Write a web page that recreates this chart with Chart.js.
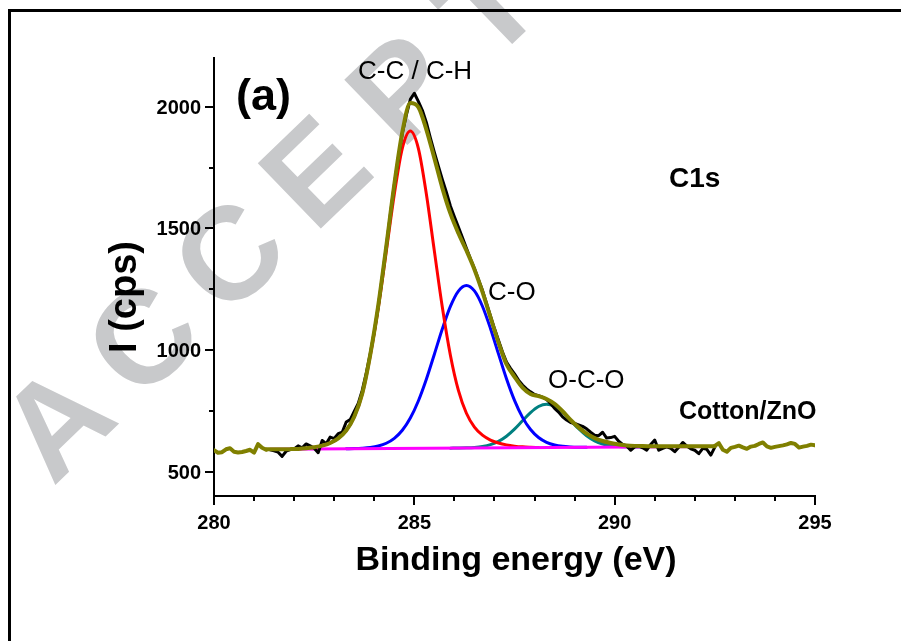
<!DOCTYPE html>
<html><head><meta charset="utf-8">
<script src="https://cdn.jsdelivr.net/npm/chart.js@4.4.1/dist/chart.umd.min.js"></script>
<style>html,body{margin:0;padding:0;background:#fff;}canvas{display:block;}</style>
</head><body>
<canvas id="c" width="901" height="641"></canvas>
<script>
// ---------- data ----------
const xTickLabels = [280, 285, 290, 295];
const xMinorTicks = [281, 282, 283, 284, 286, 287, 288, 289, 291, 292, 293, 294];
const yTickLabels = [500, 1000, 1500, 2000];
const yMinorTicks = [750, 1250, 1750];

// fit grid: starts at 281.3 eV, step 0.2 eV
const fitStart = 281.3, fitStep = 0.2;
const envelope = [592.0, 592.2, 592.4, 592.6, 593.5, 596.0, 600.5, 607.0, 618.0, 637.1,
  669.3, 725.8, 821.1, 981.4, 1183.4, 1426.8, 1680.0, 1895.0, 2015.0, 1998.0,
  1906.0, 1788.0, 1665.3, 1561.2, 1479.6, 1408.9, 1331.2, 1238.6, 1134.3, 1030.9,
  941.5, 890, 845, 819.3, 810.2, 798.8, 778.7, 748.3, 712.4, 682,
  656, 638, 626, 618, 612, 608, 606, 605, 604.5, 604,
  604, 604, 604, 604, 604, 604, 604];
const redFirst = 3;   // C-C / C-H component
const redPeak = [592.6, 593.5, 596.0, 600.5, 607.0, 618.0, 637.0, 669.0, 725.0, 819.0,
  976.6, 1172.8, 1405.0, 1640.0, 1829.0, 1900.0, 1829.0, 1641.0, 1406.2, 1174.4,
  978.6, 833.8, 740.0, 683.2, 650.0, 630.0, 618.0, 610.0, 605.0, 602.0, 600.5, 599.5];
const blueFirst = 10; // C-O component
const bluePeak = [594.3, 595.0, 596.5, 599.4, 605.4, 616.8, 637.0, 670.1, 720.4, 790.6,
  879.9, 982.5, 1087.3, 1179.1, 1242.3, 1265.0, 1242.7, 1179.9, 1088.5, 984.1,
  881.9, 793.0, 723.2, 673.3, 640.6, 620.8, 609.8, 604.2, 601.7, 600.6, 600.3];
const tealFirst = 23; // O-C-O component
const tealPeak = [596.7, 597.1, 597.9, 599.7, 603.5, 611.0, 624.4, 645.6, 674.7, 709.1,
  742.7, 767.7, 777.0, 768.1, 743.5, 710.3, 676.3, 647.6, 626.8, 613.8,
  606.7, 603.3, 601.9, 601.5, 601.5];
const baselineX = [281.4, 292.4];
const baselineY = [592, 603];

// raw spectrum: starts at 281.4 eV, step 0.1 eV
const rawStart = 281.4, rawStep = 0.1;
const raw = [590, 586, 580, 563, 584, 591, 593, 606, 598, 614,
  606, 596, 578, 628, 615, 642, 636, 656, 662, 704,
  714, 748, 780, 834, 905, 985, 1075, 1180, 1300, 1425,
  1555, 1678, 1790, 1890, 1965, 2030, 2055, 2022, 1985, 1935,
  1872, 1812, 1755, 1700, 1648, 1592, 1548, 1505, 1462, 1418,
  1375, 1335, 1290, 1245, 1192, 1140, 1088, 1040, 992, 950,
  925, 902, 876, 856, 840, 828, 817, 812, 806, 797,
  780, 760, 745, 725, 712, 702, 698, 692, 686, 676,
  662, 650, 648, 662, 638, 640, 645, 625, 612, 606,
  588, 602, 606, 598, 588, 612, 630, 588, 596, 602,
  596, 582, 600, 620, 605, 594, 588, 574, 596, 592,
  568, 601];
// olive trace outside the fit window (step 0.1 eV)
const oliveLeftStart = 280.0;
const oliveLeft = [588, 578, 580, 592, 596, 582, 579, 581, 585, 590, 578, 613, 598, 590];
const oliveRightStart = 292.5;
const oliveRight = [606, 617, 590, 582, 598, 602, 607, 600, 594, 603, 606, 614, 620, 604,
  598, 602, 605, 608, 612, 618, 614, 599, 603, 606, 611, 608];

// ---------- helpers ----------
function pts(start, step, first, ys) {
  return ys.map((y, i) => ({ x: +(start + step * (first + i)).toFixed(3), y }));
}
const FONT = '"Liberation Sans", Arial, Helvetica, sans-serif';

function line(ys, color, width, smooth) {
  return { data: ys, borderColor: color, backgroundColor: color, borderWidth: width,
    pointRadius: 0, fill: false, tension: 0,
    cubicInterpolationMode: smooth ? 'monotone' : 'default', borderJoinStyle: 'round', borderCapStyle: 'round' };
}

const datasets = [
  line(pts(fitStart, fitStep, 0, envelope), '#808000', 4, true),
  line(pts(oliveLeftStart, 0.1, 0, oliveLeft), '#808000', 4, false),
  line(pts(oliveRightStart, 0.1, 0, oliveRight), '#808000', 4, false),
  line(pts(rawStart, rawStep, 0, raw), '#000000', 3, false),
  line(baselineX.map((x, i) => ({ x, y: baselineY[i] })), '#ff00ff', 3, false),
  line(pts(fitStart, fitStep, redFirst, redPeak), '#ff0000', 3, true),
  line(pts(fitStart, fitStep, blueFirst, bluePeak), '#0000ff', 3, true),
  line(pts(fitStart, fitStep, tealFirst, tealPeak), '#008080', 3, true),
];

function txt(ctx, s, x, y, font, align, base, rot) {
  ctx.save();
  ctx.font = font; ctx.fillStyle = '#000';
  ctx.textAlign = align || 'left'; ctx.textBaseline = base || 'alphabetic';
  ctx.translate(x, y); if (rot) ctx.rotate(rot);
  ctx.fillText(s, 0, 0);
  ctx.restore();
}

const deco = {
  id: 'deco',
  beforeDraw(chart) {
    const ctx = chart.ctx;
    ctx.save();
    ctx.fillStyle = '#fff'; ctx.fillRect(0, 0, chart.width, chart.height);
    // watermark
    ctx.fillStyle = 'rgb(200,201,203)';
    ctx.font = 'bold 132px ' + FONT;
    ctx.textAlign = 'center'; ctx.textBaseline = 'middle';
    const ang = -44 * Math.PI / 180, step = 120;
    const word = 'ACCEPTED MANUSCRIPT';
    for (let k = 0; k < word.length; k++) {
      const cx = 62 + k * step * Math.cos(ang), cy = 428 + k * step * Math.sin(ang);
      ctx.save(); ctx.translate(cx, cy); ctx.rotate(ang); ctx.fillText(word[k], 0, 0); ctx.restore();
    }
    // frame
    ctx.strokeStyle = '#000'; ctx.lineWidth = 3;
    ctx.strokeRect(9.5, 10.5, 1200, 1200);
    ctx.restore();
  },
  afterDraw(chart) {
    const ctx = chart.ctx, xs = chart.scales.x, ys = chart.scales.y;
    const a = chart.chartArea;
    ctx.save();
    ctx.strokeStyle = '#000'; ctx.lineWidth = 2;
    const tick = (x1, y1, x2, y2) => { ctx.beginPath(); ctx.moveTo(x1, y1); ctx.lineTo(x2, y2); ctx.stroke(); };
    xTickLabels.forEach(v => { const p = Math.round(xs.getPixelForValue(v)); tick(p, a.bottom, p, a.bottom + 9); });
    xMinorTicks.forEach(v => { const p = Math.round(xs.getPixelForValue(v)); tick(p, a.bottom, p, a.bottom + 5); });
    yTickLabels.forEach(v => { const p = Math.round(ys.getPixelForValue(v)); tick(a.left, p, a.left - 9, p); });
    yMinorTicks.forEach(v => { const p = Math.round(ys.getPixelForValue(v)); tick(a.left, p, a.left - 5, p); });
    ctx.restore();
    const tf = 'bold 20px ' + FONT;
    xTickLabels.forEach(v => txt(ctx, String(v), xs.getPixelForValue(v), a.bottom + 33, tf, 'center', 'alphabetic'));
    yTickLabels.forEach(v => txt(ctx, String(v), a.left - 13, ys.getPixelForValue(v) + 7, tf, 'right', 'alphabetic'));
    txt(ctx, 'Binding energy (eV)', 516, 570, 'bold 34px ' + FONT, 'center', 'alphabetic');
    txt(ctx, 'I (cps)', 136, 297, 'bold 38px ' + FONT, 'center', 'alphabetic', -Math.PI / 2);
    txt(ctx, '(a)', 236, 110, 'bold 45px ' + FONT, 'left', 'alphabetic');
    txt(ctx, 'C-C / C-H', 358, 79, '26px ' + FONT, 'left', 'alphabetic');
    txt(ctx, 'C-O', 488, 300, '26px ' + FONT, 'left', 'alphabetic');
    txt(ctx, 'O-C-O', 548, 388, '26px ' + FONT, 'left', 'alphabetic');
    txt(ctx, 'C1s', 669, 187, 'bold 28px ' + FONT, 'left', 'alphabetic');
    txt(ctx, 'Cotton/ZnO', 679, 419, 'bold 25px ' + FONT, 'left', 'alphabetic');
  }
};

new Chart(document.getElementById('c'), {
  type: 'line',
  data: { datasets },
  options: {
    responsive: false, animation: false, devicePixelRatio: 1,
    layout: { padding: { left: 0, top: 58, right: 86, bottom: 0 } },
    plugins: { legend: { display: false }, tooltip: { enabled: false } },
    scales: {
      x: { type: 'linear', min: 280, max: 295,
        ticks: { display: false }, grid: { display: false },
        border: { display: true, color: '#000', width: 2 },
        afterFit: s => { s.height = 145; } },
      y: { type: 'linear', min: 400, max: 2200,
        ticks: { display: false }, grid: { display: false },
        border: { display: true, color: '#000', width: 2 },
        afterFit: s => { s.width = 214; } }
    }
  },
  plugins: [deco]
});
</script>
</body></html>
